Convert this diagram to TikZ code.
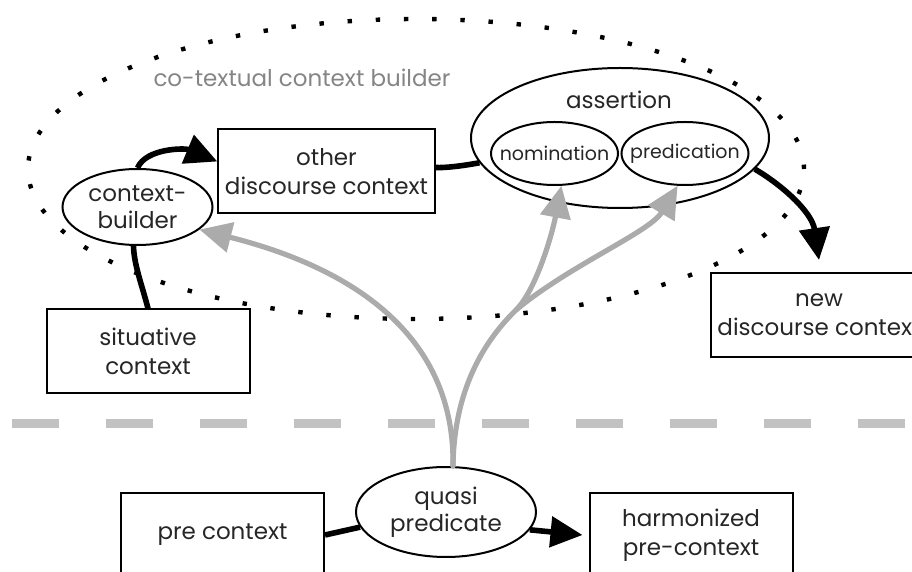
\documentclass[tikz,border=0pt]{standalone}
\usepackage{fontspec}
\setmainfont{Poppins}
\usetikzlibrary{shapes, positioning, arrows.meta}

\definecolor{arrowgray}{gray}{0.67}
\definecolor{dashgray}{gray}{0.76}
\definecolor{labelgray}{gray}{0.52}

\begin{document}
\begin{tikzpicture}[x=0.5pt, y=-0.5pt,
    box/.style={rectangle, draw=black, line width=1pt, minimum width=101.5pt,
        minimum height=42pt, align=center, text=black!85,
        font=\fontsize{11.5}{14.5}\selectfont},
    oval/.style={ellipse, draw=black, line width=1pt, inner sep=0pt,
        align=center, text=black!85, font=\fontsize{11.5}{13.5}\selectfont},
    part/.style={oval, minimum width=63.5pt, minimum height=31.5pt,
        font=\fontsize{9.5}{11}\selectfont},
    plain/.style={text=black!85, font=\fontsize{11.5}{14}\selectfont},
    note/.style={text=labelgray, font=\fontsize{11.5}{14}\selectfont},
    link/.style={line width=2.8pt, draw=black},
    feed/.style={line width=2.6pt, draw=arrowgray, line cap=round},
    bigtip/.style={-{Triangle[length=16pt, width=15pt]}},
    ring/.style={draw=black, line width=2.2pt, dash pattern=on 2.2pt off 11.9pt},
    divider/.style={draw=dashgray, line width=4.5pt, dash pattern=on 23.5pt off 23.5pt}
]
\useasboundingbox (0,0) rectangle (912,572);
\clip (0,0) rectangle (912,572);

% co-textual ring
\draw[ring] (416,169) ellipse [x radius=194pt, y radius=75pt];
\node (Ring00) [note] at (302,78) {co-textual context builder};
\draw[divider] (12,424) -- (912,424);

\node (CB01) [oval, minimum width=75pt, minimum height=38pt] at (137.5,207) {context-\\builder};
\node (D01) [box] at (326.5,171.5) {other\\discourse context};
\node (As01) [oval, minimum width=149pt, minimum height=70pt] at (620,138) {};
\node (As00) [plain] at (619,100) {assertion};
\node (N01) [part] at (554.5,153.5) {\makebox[0pt]{nomination}};
\node (P01) [part] at (685,153.5) {\makebox[0pt]{predication}};
\node (D02) [box] at (819,315) {new\\discourse context};
\node (S01) [box] at (148,351.5) {situative\\context};
\node (Pre01) [box] at (222.5,535) {pre context};
\node (QP01) [oval, minimum width=90pt, minimum height=45pt] at (446,512) {quasi\\predicate};
\node (H01) [box] at (691,535) {harmonized\\pre-context};

% black flow
\draw[link, bigtip] (CB01.north) .. controls (146,148) and (185,148) .. ([yshift=5pt]D01.west);
\draw[link] (S01.north) .. controls (142,285) and (134,265) .. ([xshift=-2pt]CB01.south);
\draw[link] ([yshift=2pt]D01.east) .. controls (445,168) and (462,166) .. (As01.190);
\draw[link, bigtip] (As01.-13) .. controls (782,185) and (812,212) .. ([yshift=6pt]D02.north);
\draw[link] (Pre01.east) -- (QP01.190);
\draw[link, bigtip] (QP01.-12) -- ([xshift=-3pt]H01.west);

% gray flow
\coordinate (Fork) at (516,310);
\draw[feed, bigtip] ([xshift=3.5pt]QP01.north) .. controls (455,340) and (360,270) .. (CB01.-20);
\draw[feed] ([xshift=3.5pt]QP01.north) .. controls (454,395) and (480,345) .. (Fork);
\draw[feed, bigtip] (Fork) .. controls (536,290) and (552,235) .. (N01.-78);
\draw[feed, bigtip] (Fork) .. controls (570,265) and (650,232) .. (P01.-103);

\end{tikzpicture}
\end{document}
